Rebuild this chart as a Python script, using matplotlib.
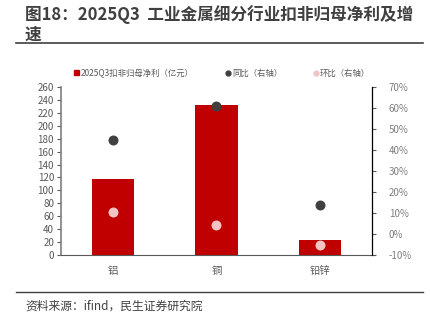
import matplotlib.pyplot as plt
from matplotlib.lines import Line2D
from matplotlib.patches import Patch

plt.rcParams["font.family"] = ["Noto Sans CJK SC", "DejaVu Sans"]

categories = ["铝", "铜", "铅锌"]
profit = [118, 232, 23]          # 亿元
yoy = [45.0, 61.1, 13.6]         # %
qoq = [10.5, 4.3, -5.4]          # %

bar_color = "#C00000"
yoy_color = "#404040"
qoq_color = "#F2C4C4"
text_color = "#595959"

fig = plt.figure(figsize=(4.31, 3.32), dpi=100)
ax = fig.add_axes([61 / 431, 1 - 255 / 332, 311 / 431, 168 / 332])
ax2 = ax.twinx()

x = list(range(len(categories)))
ax.bar(x, profit, width=0.41, color=bar_color, zorder=2)
ax2.scatter(x, yoy, s=38, color=yoy_color, zorder=3)
ax2.scatter(x, qoq, s=38, color=qoq_color, zorder=3)

ax.set_xlim(-0.5, 2.5)
ax.set_ylim(0, 260)
ax.set_yticks(range(0, 261, 20))
ax2.set_ylim(-10, 70)
ax2.set_yticks(range(-10, 71, 10))
ax2.set_yticklabels([f"{v}%" for v in range(-10, 71, 10)])
ax.set_xticks(x)
ax.set_xticklabels(categories)

for a in (ax, ax2):
    a.spines["top"].set_visible(False)
    a.tick_params(labelsize=7, colors=text_color, length=3, width=0.8)
ax.tick_params(axis="x", length=0, pad=8, labelsize=7.5)
ax.tick_params(axis="y", pad=2)
ax2.tick_params(axis="y", pad=9)
ax.spines["left"].set_color("#7f7f7f")
ax.spines["left"].set_linewidth(1.2)
ax.spines["bottom"].set_color("#595959")
ax.spines["right"].set_visible(False)
ax2.spines["left"].set_visible(False)
ax2.spines["bottom"].set_visible(False)
ax2.spines["right"].set_color("#000000")
ax2.spines["right"].set_linewidth(0.9)
for lab in ax2.get_yticklabels():
    lab.set_color("#7f7f7f")

handles = [
    Patch(color=bar_color, label="2025Q3扣非归母净利（亿元）"),
    Line2D([], [], marker="o", ls="", color=yoy_color, markersize=3.5, label="同比（右轴）"),
    Line2D([], [], marker="o", ls="", color=qoq_color, markersize=3.5, label="环比（右轴）"),
]
fig.legend(handles=handles, loc="center", bbox_to_anchor=(0.516, 1 - 73 / 332), ncol=3,
           frameon=False, fontsize=6, labelcolor=text_color, columnspacing=3.75,
           handlelength=0.6, handleheight=0.6, handletextpad=0.2)

fig.text(25 / 431, 1 - 15 / 332, "图18：2025Q3  工业金属细分行业扣非归母净利及增",
         fontsize=12, fontweight="bold", color="#404040", va="center")
fig.text(25 / 431, 1 - 35 / 332, "速", fontsize=12, fontweight="bold",
         color="#404040", va="center")
fig.add_artist(Line2D([16 / 431, 423 / 431], [1 - 43 / 332] * 2, color="#404040", lw=1.2))
fig.add_artist(Line2D([16 / 431, 423 / 431], [1 - 292 / 332] * 2, color="#404040", lw=1.0))
fig.text(25 / 431, 1 - 306 / 332, "资料来源：ifind，民生证券研究院", fontsize=8.5,
         color="#404040", va="center")

fig.savefig("out.png", dpi=100)
